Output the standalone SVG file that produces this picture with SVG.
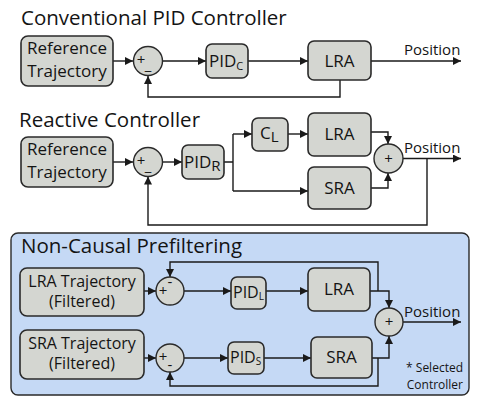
<svg xmlns="http://www.w3.org/2000/svg" width="480" height="405" viewBox="0 0 480 405">
<defs>
<marker id="ah" viewBox="0 0 10 10" refX="10" refY="5" markerWidth="8" markerHeight="8" markerUnits="userSpaceOnUse" orient="auto">
<path d="M0,0 L10,5 L0,10 z" fill="#1a1a1a"/>
</marker>
<style>
text{font-family:"Open Sans","DejaVu Sans",sans-serif;fill:#141414}
.title{font-size:20.5px}
.lbl{font-size:17px;text-anchor:middle}
.lbl3{font-size:16px;text-anchor:middle}
.box{fill:#d4d6d1;stroke:#2a2a2a;stroke-width:1.6}
.sum{fill:#d4d6d1;stroke:#2a2a2a;stroke-width:1.4}
.c{fill:none;stroke:#1a1a1a;stroke-width:1.4}
.a{marker-end:url(#ah)}
.sg{font-size:15px;text-anchor:middle}
.pos{font-size:15px}
</style>
</defs>
<rect x="0" y="0" width="480" height="405" fill="#ffffff"/>

<!-- Panel 3 background -->
<rect id="prefilter-panel" x="11" y="233" width="458" height="162" rx="7" fill="#c5d9f5" stroke="#2a2a2a" stroke-width="1.4"/>

<!-- Titles -->
<text class="title" x="21" y="25">Conventional PID Controller</text>
<text class="title" x="19" y="127">Reactive Controller</text>
<text class="title" x="21" y="253">Non-Causal Prefiltering</text>

<!-- Connectors -->
<g id="connectors">
<path class="c a" d="M113,61 H133"/>
<path class="c a" d="M163,61 H206"/>
<path class="c a" d="M248,61 H308"/>
<path class="c a" d="M371,61 H461"/>
<path class="c a" d="M340,80 V97 H148 V76"/>

<path class="c a" d="M113,162 H133"/>
<path class="c a" d="M163,162 H182"/>
<path class="c" d="M224,162 H233 M233,134 V191"/>
<path class="c a" d="M233,134 H252"/>
<path class="c a" d="M233,191 H308"/>
<path class="c a" d="M288,134 H308"/>
<path class="c a" d="M371,132 H388 V144"/>
<path class="c a" d="M371,188 H388 V173"/>
<path class="c a" d="M403,158.5 H461"/>
<path class="c a" d="M427,158.5 V225 H148 V176.5"/>

<path class="c a" d="M144,291 H156"/>
<path class="c a" d="M184,291 H231"/>
<path class="c a" d="M266,291 H308"/>
<path class="c a" d="M370,291 H389 V308"/>
<path class="c a" d="M378,291 V262 H170 V277"/>
<path class="c a" d="M144,358 H156"/>
<path class="c a" d="M184,358 H228"/>
<path class="c a" d="M264,358 H311"/>
<path class="c a" d="M372,358 H389 V336"/>
<path class="c a" d="M378,358 V386 H170 V372"/>
<path class="c a" d="M403,322 H461"/>
</g>

<!-- Panel 1 nodes -->
<g id="ref1">
<rect class="box" x="21" y="36" width="92" height="50" rx="7"/>
<text class="lbl" x="67" y="54">Reference</text>
<text class="lbl" x="67" y="77">Trajectory</text>
</g>
<g id="sum1">
<circle class="sum" cx="148" cy="61" r="14.5"/>
<text class="sg" x="141" y="65">+</text>
<text class="sg" x="148" y="70">_</text>
</g>
<g id="pidc">
<rect class="box" x="206" y="44" width="42" height="34" rx="6"/>
<text x="209" y="67" font-size="17">PID<tspan font-size="11" dy="3">C</tspan></text>
</g>
<g id="lra1">
<rect class="box" x="308" y="41" width="63" height="39" rx="6"/>
<text class="lbl" x="339.5" y="67">LRA</text>
</g>
<text class="pos" x="404" y="55">Position</text>

<!-- Panel 2 nodes -->
<g id="ref2">
<rect class="box" x="21" y="137" width="92" height="50" rx="7"/>
<text class="lbl" x="67" y="155">Reference</text>
<text class="lbl" x="67" y="178">Trajectory</text>
</g>
<g id="sum2">
<circle class="sum" cx="148" cy="162" r="14.5"/>
<text class="sg" x="141" y="166">+</text>
<text class="sg" x="148" y="171">_</text>
</g>
<g id="pidr">
<rect class="box" x="182" y="145" width="42" height="34" rx="6"/>
<text x="184" y="168" font-size="17">PID<tspan font-size="15" dy="3">R</tspan></text>
</g>
<g id="cl">
<rect class="box" x="252" y="118" width="36" height="33" rx="6"/>
<text x="260" y="139" font-size="17">C<tspan font-size="15" dy="3">L</tspan></text>
</g>
<g id="lra2">
<rect class="box" x="308" y="113" width="63" height="43" rx="6"/>
<text class="lbl" x="339.5" y="140">LRA</text>
</g>
<g id="sra2">
<rect class="box" x="308" y="167" width="63" height="42" rx="6"/>
<text class="lbl" x="339.5" y="194">SRA</text>
</g>
<g id="sumout2">
<circle class="sum" cx="388.5" cy="158.5" r="14.5"/>
<text class="sg" x="388.5" y="163.5">+</text>
</g>
<text class="pos" x="404" y="153">Position</text>

<!-- Panel 3 nodes -->
<g id="lratraj">
<rect class="box" x="20" y="268" width="124" height="48" rx="7"/>
<text class="lbl3" x="82" y="287">LRA Trajectory</text>
<text class="lbl3" x="82" y="307">(Filtered)</text>
</g>
<g id="sum3">
<circle class="sum" cx="170" cy="291" r="14"/>
<text class="sg" x="163" y="296">+</text>
<text class="sg" x="170" y="287">-</text>
</g>
<g id="pidl">
<rect class="box" x="231" y="277" width="35" height="32" rx="6"/>
<text x="233" y="298" font-size="16">PID<tspan font-size="10" dy="2">L</tspan></text>
</g>
<g id="lra3">
<rect class="box" x="308" y="268" width="62" height="43" rx="6"/>
<text class="lbl" x="339" y="295">LRA</text>
</g>
<g id="sratraj">
<rect class="box" x="20" y="330" width="124" height="49" rx="7"/>
<text class="lbl3" x="82" y="349">SRA Trajectory</text>
<text class="lbl3" x="82" y="369">(Filtered)</text>
</g>
<g id="sum4">
<circle class="sum" cx="170" cy="358" r="14"/>
<text class="sg" x="163" y="362">+</text>
<text class="sg" x="170" y="370">-</text>
</g>
<g id="pids">
<rect class="box" x="228" y="342" width="36" height="32" rx="6"/>
<text x="230" y="363" font-size="16">PID<tspan font-size="10" dy="2">S</tspan></text>
</g>
<g id="sra3">
<rect class="box" x="311" y="337" width="61" height="41" rx="6"/>
<text class="lbl" x="341.5" y="363">SRA</text>
</g>
<g id="sumout3">
<circle class="sum" cx="389" cy="322" r="14"/>
<text class="sg" x="389" y="327">+</text>
</g>
<text class="pos" x="404" y="317">Position</text>
<text x="463" y="372" font-size="12" text-anchor="end">* Selected</text>
<text x="463" y="389" font-size="12" text-anchor="end">Controller</text>
</svg>
